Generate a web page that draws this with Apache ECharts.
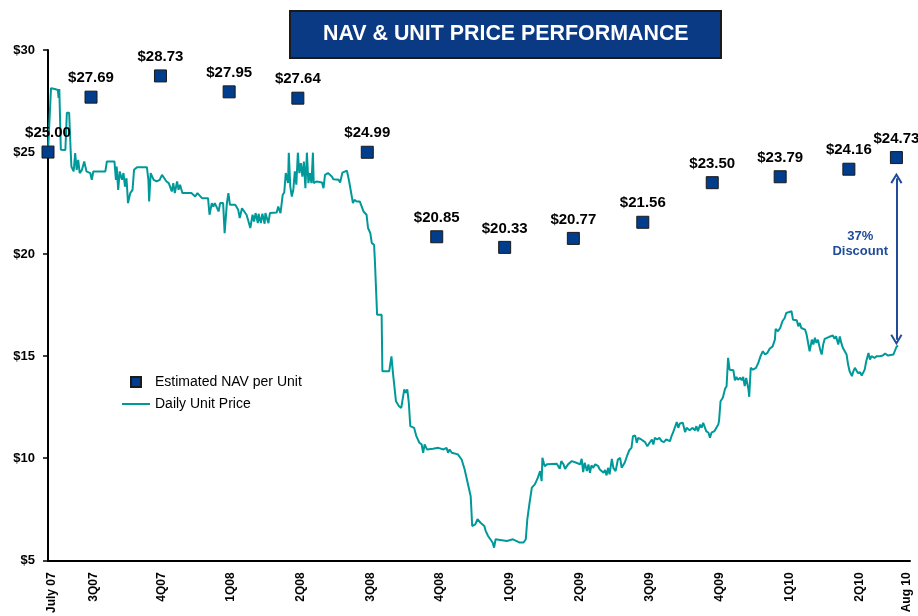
<!DOCTYPE html>
<html>
<head>
<meta charset="utf-8">
<script src="https://cdn.jsdelivr.net/npm/echarts@6/dist/echarts.min.js"></script>
<style>
  body { margin: 0; background: #fff; }
  #main { width: 918px; height: 616px; }
</style>
</head>
<body>
<div id="main"></div>
<script>
// x values are day numbers counted from 1 July 2007
var tickNames = ['July 07', '3Q07', '4Q07', '1Q08', '2Q08', '3Q08', '4Q08', '1Q09', '2Q09', '3Q09', '4Q09', '1Q10', '2Q10', 'Aug 10'];
var tickDays = [39, 94, 184, 276, 369, 461, 553, 646, 739, 831, 924, 1017, 1110, 1172];

var navDays = [34, 91, 183, 274, 365, 457, 549, 639, 730, 822, 914, 1004, 1095, 1158];
var navValues = [25.00, 27.69, 28.73, 27.95, 27.64, 24.99, 20.85, 20.33, 20.77, 21.56, 23.50, 23.79, 24.16, 24.73];

// daily unit price, [day, price]
var unitPrice = [
  [34, 25.02], [38, 28.13], [43, 28.09], [47, 28.04], [48, 27.65], [49, 28.09], [51, 25.11], [57, 25.10],
  [59, 26.93], [62, 26.93], [64, 25.10], [65, 24.29], [68, 24.05], [70, 24.95], [72, 24.13], [74, 24.62],
  [76, 23.97], [79, 24.13], [82, 24.54], [85, 24.05], [90, 23.97], [92, 23.64], [94, 24.05], [110, 24.05],
  [112, 24.54], [122, 24.54], [124, 23.64], [125, 24.29], [127, 23.15], [129, 24.05], [132, 23.64], [134, 23.97],
  [136, 23.31], [138, 23.72], [140, 22.50], [143, 22.99], [146, 23.15], [148, 24.13], [152, 24.26], [165, 24.26],
  [167, 23.64], [168, 22.58], [170, 23.97], [174, 23.64], [178, 23.56], [182, 23.64], [185, 23.88], [191, 23.56],
  [194, 23.48], [198, 23.07], [200, 23.48], [202, 22.99], [205, 23.56], [207, 23.15], [209, 23.40], [212, 22.99],
  [224, 22.99], [229, 22.82], [232, 22.99], [238, 22.74], [246, 22.74], [248, 21.93], [251, 22.50], [253, 22.33],
  [255, 22.50], [260, 22.09], [262, 22.50], [264, 22.42], [266, 22.50], [268, 21.03], [271, 22.50], [273, 22.99],
  [275, 22.42], [277, 22.50], [282, 22.42], [286, 22.17], [288, 21.77], [291, 22.25], [293, 22.25], [297, 21.93],
  [299, 21.68], [302, 21.28], [305, 21.93], [307, 21.60], [309, 22.01], [312, 21.52], [313, 21.98], [316, 21.52],
  [318, 21.98], [321, 21.49], [322, 22.01], [326, 21.52], [328, 22.01], [337, 22.04], [339, 22.33], [342, 22.01],
  [345, 22.91], [347, 23.02], [349, 23.97], [352, 23.48], [353, 24.97], [355, 23.31], [357, 22.82], [359, 23.15],
  [361, 24.05], [363, 23.40], [365, 24.97], [367, 23.97], [369, 24.46], [371, 23.80], [373, 24.53], [375, 23.23],
  [377, 24.97], [379, 23.48], [381, 23.97], [383, 23.48], [385, 24.97], [386, 23.48], [390, 23.56], [397, 23.51],
  [399, 23.23], [401, 23.88], [405, 23.97], [410, 23.80], [412, 23.67], [419, 23.64], [421, 23.51], [424, 23.99],
  [430, 24.09], [433, 23.56], [435, 23.48], [438, 22.50], [440, 22.66], [443, 22.58], [447, 22.58], [452, 22.09],
  [456, 21.93], [458, 21.28], [461, 21.03], [463, 20.54], [466, 20.46], [467, 19.73], [470, 17.03], [476, 17.03],
  [477, 14.26], [486, 14.26], [489, 14.99], [491, 14.18], [495, 12.79], [499, 12.55], [502, 12.47], [506, 13.37],
  [508, 13.20], [510, 13.37], [512, 12.72], [514, 11.57], [519, 11.49], [522, 11.08], [526, 10.76], [529, 10.68],
  [531, 10.27], [533, 10.68], [536, 10.43], [544, 10.46], [551, 10.51], [558, 10.43], [562, 10.51], [564, 10.27],
  [566, 10.43], [569, 10.27], [577, 10.19], [582, 9.94], [586, 9.45], [591, 8.63], [594, 8.14], [596, 6.68],
  [600, 6.76], [603, 7.01], [607, 6.84], [612, 6.68], [614, 6.43], [617, 6.19], [620, 6.03], [623, 5.87],
  [625, 5.62], [627, 6.03], [633, 6.00], [642, 5.95], [650, 6.03], [659, 5.87], [664, 5.87], [667, 6.03],
  [669, 7.01], [672, 7.82], [675, 8.56], [679, 8.72], [683, 9.05], [686, 9.37], [688, 8.88], [689, 10.02],
  [692, 9.61], [695, 9.70], [708, 9.73], [710, 9.81], [712, 9.48], [714, 9.86], [717, 9.70], [719, 9.48],
  [723, 9.70], [728, 9.86], [730, 9.94], [734, 9.78], [736, 9.81], [739, 9.70], [741, 9.97], [743, 9.32],
  [745, 9.78], [748, 9.37], [750, 9.70], [752, 9.29], [754, 9.65], [756, 9.53], [759, 9.70], [761, 9.75],
  [763, 9.61], [765, 9.45], [767, 9.53], [770, 9.29], [772, 9.42], [774, 9.16], [776, 9.53], [778, 9.21],
  [781, 9.97], [783, 9.53], [786, 9.37], [789, 9.94], [792, 10.02], [794, 9.53], [798, 9.78], [801, 10.10],
  [804, 10.39], [807, 10.51], [809, 11.08], [812, 11.11], [814, 10.76], [816, 11.00], [820, 10.92], [825, 10.79],
  [828, 10.59], [831, 10.76], [834, 10.92], [836, 10.67], [838, 11.00], [841, 10.92], [844, 11.00], [847, 10.84],
  [850, 10.79], [853, 10.92], [858, 10.84], [860, 11.08], [862, 11.25], [864, 11.16], [867, 11.77], [869, 11.49],
  [871, 11.70], [875, 11.74], [878, 11.28], [880, 11.49], [884, 11.37], [888, 11.49], [891, 11.37], [893, 11.57],
  [895, 11.33], [898, 11.65], [900, 11.49], [902, 11.74], [904, 11.82], [906, 11.33], [909, 11.25], [911, 11.00],
  [913, 11.25], [915, 11.16], [917, 11.33], [922, 11.65], [923, 11.82], [925, 12.79], [928, 12.96], [931, 13.40],
  [933, 13.53], [935, 14.92], [937, 14.34], [942, 14.31], [944, 13.82], [946, 13.98], [948, 13.85], [951, 13.94],
  [953, 13.82], [955, 13.98], [957, 13.53], [959, 13.94], [962, 13.37], [963, 13.01], [965, 14.43], [968, 14.34],
  [972, 14.43], [975, 14.67], [978, 15.00], [981, 15.24], [984, 15.08], [987, 15.16], [990, 15.36], [994, 15.48],
  [997, 15.81], [998, 16.34], [1001, 16.22], [1004, 16.38], [1007, 16.71], [1010, 16.87], [1012, 17.12], [1015, 17.15],
  [1017, 17.08], [1019, 17.20], [1021, 16.79], [1023, 16.71], [1026, 16.76], [1028, 16.46], [1030, 16.63], [1032, 16.38],
  [1037, 16.30], [1039, 16.06], [1041, 16.14], [1043, 15.24], [1046, 15.81], [1048, 15.57], [1050, 15.90], [1052, 15.65],
  [1054, 15.81], [1057, 15.32], [1059, 15.08], [1061, 15.57], [1063, 15.85], [1069, 15.95], [1074, 16.01], [1076, 15.85],
  [1078, 15.97], [1081, 15.57], [1083, 15.97], [1085, 15.65], [1087, 15.41], [1092, 15.08], [1094, 14.59], [1096, 14.26],
  [1099, 14.02], [1101, 14.26], [1103, 14.43], [1105, 14.51], [1107, 14.18], [1110, 14.21], [1112, 14.05], [1114, 14.10],
  [1116, 14.34], [1118, 14.75], [1121, 15.16], [1123, 14.83], [1125, 15.00], [1127, 15.08], [1129, 14.92], [1132, 15.00],
  [1136, 15.00], [1140, 15.03], [1143, 15.13], [1145, 15.19], [1147, 15.03], [1154, 15.08], [1156, 15.16], [1158, 15.45],
  [1160, 15.52]
];

// discount arrow: from NAV down to unit price at the last date
var arrowDay = 1158;
var arrowTop = 23.72;
var arrowBottom = 15.81;
var discountText = '37%\nDiscount';

var font = 'Liberation Sans';
var navy = '#003d8c';
var teal = '#00999a';
var chevron = 'path://M5,0L10,9L8.6,10L5,3.4L1.4,10L0,9Z';

var navData = [];
for (var i = 0; i < navDays.length; i++) {
  navData.push([navDays[i], navValues[i]]);
}

var myChart = echarts.init(document.getElementById('main'));

var option = {
  backgroundColor: '#fff',
  animation: false,
  title: {
    text: 'NAV & UNIT PRICE PERFORMANCE',
    left: 290,
    top: 11,
    padding: [13, 33, 13, 33],
    backgroundColor: '#0a3a84',
    borderColor: '#1a1a1a',
    borderWidth: 2,
    textStyle: {
      color: '#fff',
      fontFamily: font,
      fontWeight: 'bold',
      fontSize: 21.4
    }
  },
  legend: {
    orient: 'vertical',
    left: 117,
    top: 370,
    itemWidth: 28,
    itemHeight: 10,
    itemGap: 8,
    textStyle: { fontFamily: font, fontSize: 14, color: '#000' },
    data: [
      { name: 'Estimated NAV per Unit', icon: 'path://M0,0h10v10h-10z' },
      { name: 'Daily Unit Price', icon: 'path://M0,0h28v2h-28z' }
    ]
  },
  grid: {
    left: 48,
    right: 8,
    top: 50,
    bottom: 55
  },
  xAxis: {
    type: 'value',
    min: 34,
    max: 1176,
    splitLine: { show: false },
    axisLine: { lineStyle: { color: '#000', width: 2 } },
    axisTick: { show: false },
    axisLabel: {
      customValues: tickDays,
      rotate: 90,
      margin: 12,
      color: '#000',
      fontFamily: font,
      fontWeight: 'bold',
      fontSize: 12,
      formatter: function (v) {
        var k = tickDays.indexOf(v);
        return k >= 0 ? tickNames[k] : '';
      }
    }
  },
  yAxis: {
    type: 'value',
    min: 5,
    max: 30,
    interval: 5,
    splitLine: { show: false },
    axisLine: { show: true, lineStyle: { color: '#000', width: 2 } },
    axisTick: { show: true, length: 5, lineStyle: { color: '#000', width: 1.5 } },
    axisLabel: {
      margin: 13,
      color: '#000',
      fontFamily: font,
      fontWeight: 'bold',
      fontSize: 13,
      formatter: '${value}'
    }
  },
  series: [
    {
      name: 'Daily Unit Price',
      type: 'line',
      data: unitPrice,
      symbol: 'none',
      lineStyle: { color: teal, width: 2 },
      itemStyle: { color: teal },
      z: 2,
      markPoint: {
        symbol: 'rect',
        symbolSize: 0,
        label: {
          show: true,
          position: 'inside',
          formatter: discountText,
          color: '#1f4b98',
          fontFamily: font,
          fontWeight: 'bold',
          fontSize: 13,
          lineHeight: 15
        },
        data: [{ coord: [1110, 20.5] }]
      }
    },
    {
      name: 'Estimated NAV per Unit',
      type: 'scatter',
      data: navData,
      symbol: 'rect',
      symbolSize: 12,
      itemStyle: { color: navy, borderColor: '#1a1a1a', borderWidth: 1, opacity: 1 },
      label: {
        show: true,
        position: 'top',
        distance: 5,
        color: '#000',
        fontFamily: font,
        fontWeight: 'bold',
        fontSize: 15,
        formatter: function (p) { return '$' + p.value[1].toFixed(2); }
      },
      z: 3,
      markLine: {
        silent: true,
        symbol: [chevron, chevron],
        symbolSize: [12, 11],
        lineStyle: { color: '#1f4b98', width: 2, type: 'solid' },
        label: { show: false },
        data: [[{ coord: [arrowDay, arrowTop] }, { coord: [arrowDay, arrowBottom] }]]
      }
    }
  ]
};

myChart.setOption(option);
</script>
</body>
</html>
